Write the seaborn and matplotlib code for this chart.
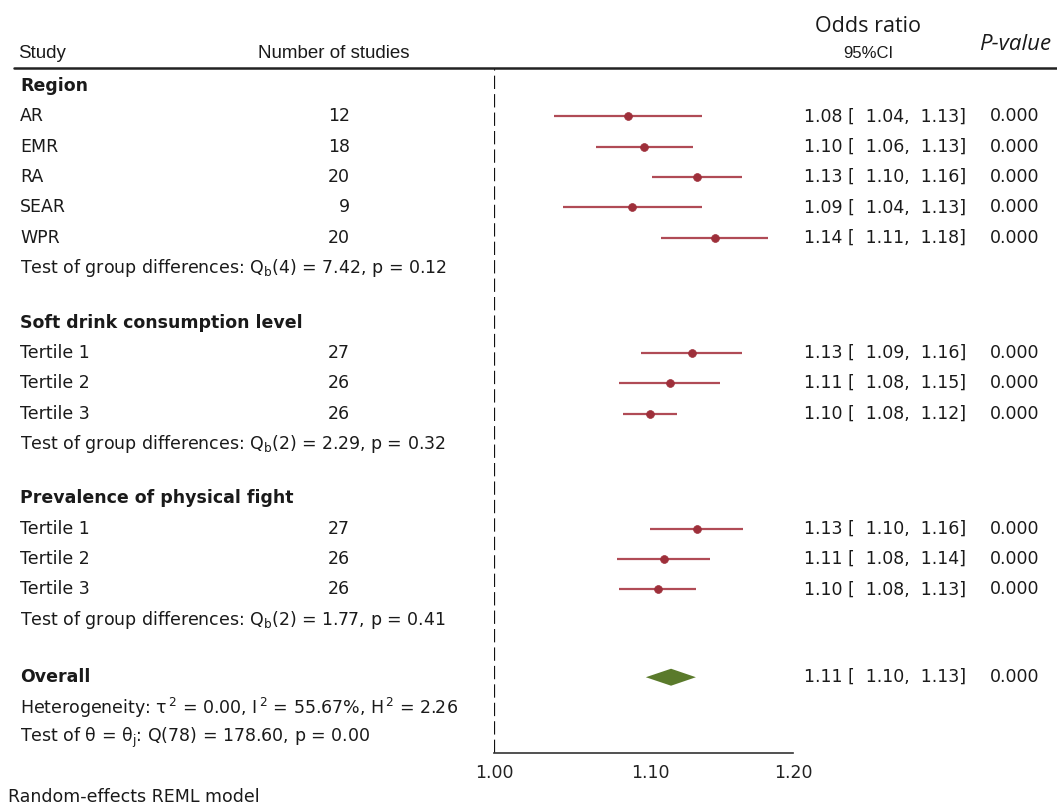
import numpy as np
import pandas as pd
import seaborn as sns
import matplotlib.pyplot as plt
from matplotlib import transforms

# ---- data ----
groups = ["Region", "Soft drink consumption level", "Prevalence of physical fight"]
studies = [["AR", "EMR", "RA", "SEAR", "WPR"],
           ["Tertile 1", "Tertile 2", "Tertile 3"],
           ["Tertile 1", "Tertile 2", "Tertile 3"]]
n_studies = [[12, 18, 20, 9, 20], [27, 26, 26], [27, 26, 26]]
odds = [[1.085, 1.096, 1.132, 1.088, 1.144],
        [1.128, 1.113, 1.100],
        [1.132, 1.109, 1.105]]
ci_low = [[1.037, 1.064, 1.101, 1.043, 1.107],
          [1.094, 1.079, 1.082],
          [1.100, 1.078, 1.079]]
ci_high = [[1.135, 1.129, 1.163, 1.135, 1.182],
           [1.163, 1.148, 1.118],
           [1.164, 1.141, 1.131]]
or_text = [["1.08 [  1.04,  1.13]", "1.10 [  1.06,  1.13]", "1.13 [  1.10,  1.16]",
            "1.09 [  1.04,  1.13]", "1.14 [  1.11,  1.18]"],
           ["1.13 [  1.09,  1.16]", "1.11 [  1.08,  1.15]", "1.10 [  1.08,  1.12]"],
           ["1.13 [  1.10,  1.16]", "1.11 [  1.08,  1.14]", "1.10 [  1.08,  1.13]"]]
p_text = [["0.000"] * 5, ["0.000"] * 3, ["0.000"] * 3]
group_tests = [r"Test of group differences: Q$_\mathrm{b}$(4) = 7.42, p = 0.12",
               r"Test of group differences: Q$_\mathrm{b}$(2) = 2.29, p = 0.32",
               r"Test of group differences: Q$_\mathrm{b}$(2) = 1.77, p = 0.41"]
overall = (1.114, 1.097, 1.131)
overall_text = "1.11 [  1.10,  1.13]"
overall_p = "0.000"
heterogeneity = r"Heterogeneity: $\mathrm{\tau}^{\,2}$ = 0.00, I$^{\,2}$ = 55.67%, H$^{\,2}$ = 2.26"
theta_test = r"Test of $\mathrm{\theta}$ = $\mathrm{\theta}_\mathrm{j}$: Q(78) = 178.60, p = 0.00"
x_ticks = [1.00, 1.10, 1.20]

# ---- build rows ----
rows = []
y = 0.6
group_y = []
test_y = []
for g in range(len(groups)):
    group_y.append(y)
    y += 1
    for i in range(len(studies[g])):
        rows.append(dict(y=y, study=studies[g][i], n=n_studies[g][i], OR=odds[g][i],
                         lo=ci_low[g][i], hi=ci_high[g][i], txt=or_text[g][i], p=p_text[g][i]))
        y += 1
    test_y.append(y)
    y += 1.8
overall_y = y + 0.1
df = pd.DataFrame(rows)

sns.set_theme(style="white")
plt.rcParams['font.family'] = ['DejaVu Sans']
plt.rcParams['mathtext.fontset'] = 'dejavusans'

W, H = 1057, 809
fig = plt.figure(figsize=(W / 100, H / 100), dpi=100)
ax = fig.add_axes([494 / W, 1 - 753 / H, 299 / W, (753 - 68) / H])

red = "#9e2f3a"
ax.hlines(df["y"], df["lo"], df["hi"], color="#b04b56", lw=1.6, zorder=2)
sns.scatterplot(data=df, x="OR", y="y", color=red, s=32, edgecolor=red, linewidth=0.5,
                ax=ax, zorder=3, legend=False)

# overall diamond
est, lo, hi = overall
ax.fill([lo, est, hi, est], [overall_y, overall_y - 0.28, overall_y, overall_y + 0.28],
        color="#5a7a2b", lw=0, zorder=3)

ax.axvline(1.0, color="#111111", lw=1.6, dashes=(6.0, 2.3), zorder=1)

ax.set_xscale("log")
ax.set_xlim(1.0, 1.2)
ax.set_ylim(22.6, 0)
ax.set_xticks(x_ticks)
ax.set_xticklabels([f"{t:.2f}" for t in x_ticks])
ax.minorticks_off()
ax.tick_params(axis="x", direction="in", length=5, width=1, color="#333333",
               labelsize=12.5, pad=8, labelcolor="#222222")
ax.set_yticks([])
ax.set_xlabel("")
ax.set_ylabel("")
for s in ["top", "right", "left"]:
    ax.spines[s].set_visible(False)
ax.spines["bottom"].set_color("#333333")
ax.spines["bottom"].set_linewidth(1.2)
ax.patch.set_alpha(0)

tr = transforms.blended_transform_factory(fig.transFigure, ax.transData)
fs = 12.5
tc = "#1a1a1a"
kw = dict(transform=tr, fontsize=fs, color=tc, va="center")
x_study = 20 / W
x_n = 350 / W
x_or = 966 / W
x_p = 1039 / W

for g in range(len(groups)):
    ax.text(x_study, group_y[g], groups[g], fontweight="bold", ha="left", **kw)
    ax.text(x_study, test_y[g], group_tests[g], ha="left", **kw)
for _, r in df.iterrows():
    ax.text(x_study, r["y"], r["study"], ha="left", **kw)
    ax.text(x_n, r["y"], str(r["n"]), ha="right", **kw)
    ax.text(x_or, r["y"], r["txt"], ha="right", **kw)
    ax.text(x_p, r["y"], r["p"], ha="right", **kw)

ax.text(x_study, overall_y, "Overall", fontweight="bold", ha="left", **kw)
ax.text(x_or, overall_y, overall_text, ha="right", **kw)
ax.text(x_p, overall_y, overall_p, ha="right", **kw)
ax.text(x_study, overall_y + 1, heterogeneity, ha="left", **kw)
ax.text(x_study, overall_y + 2, theta_test, ha="left", **kw)

# header
narrow = ['Liberation Sans', 'DejaVu Sans']
fig.text(18 / W, 1 - 54 / H, "Study", family=narrow, fontsize=13.5, color=tc, va="center")
fig.text(258 / W, 1 - 54 / H, "Number of studies", family=narrow, fontsize=13.5, color=tc, va="center")
fig.text(868 / W, 1 - 54 / H, "95%CI", family=narrow, fontsize=12, color=tc, va="center", ha="center")
fig.text(868 / W, 1 - 27 / H, "Odds ratio", family=['Open Sans', 'DejaVu Sans'], fontsize=15.5, color=tc,
         va="center", ha="center")
fig.text(1015 / W, 1 - 44 / H, "P-value", family=['Open Sans', 'DejaVu Sans'], style="italic", fontsize=16,
         color=tc, va="center", ha="center")
fig.add_artist(plt.Line2D([14 / W, 1.0], [1 - 68 / H, 1 - 68 / H], color="#222222", lw=1.8))
fig.text(8 / W, 1 - 797 / H, "Random-effects REML model", fontsize=fs, color=tc, va="center")

fig.savefig("out.png", dpi=100)
